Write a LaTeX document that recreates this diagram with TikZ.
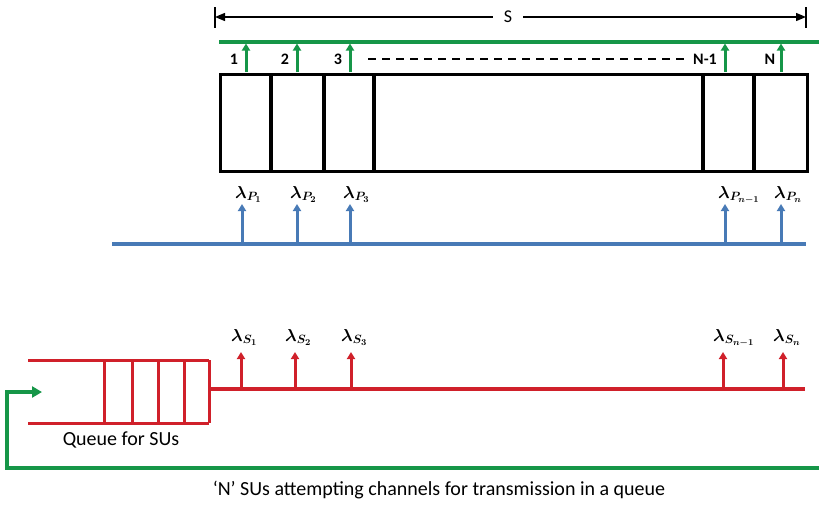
\documentclass[tikz,border=0pt]{standalone}
\usepackage{fontspec}
\setmainfont{Carlito}
\usepackage{bm}
\DeclareMathSizes{17}{17}{12.5}{9.5}
\usetikzlibrary{arrows.meta}
\definecolor{cgreen}{RGB}{22,150,72}
\definecolor{cblue}{RGB}{72,122,182}
\definecolor{cred}{RGB}{208,32,42}
\begin{document}
\begin{tikzpicture}[x=1pt,y=-1pt,
  boxline/.style={draw=black,line width=3.2pt},
  tipg/.style={-{Triangle[length=7pt,width=8pt]}},
  garrow/.style={draw=cgreen,line width=3pt,tipg},
  barrow/.style={draw=cblue,line width=3pt,tipg},
  rarrow/.style={draw=cred,line width=3pt,tipg},
  numlbl/.style={font=\fontsize{16}{18}\selectfont\bfseries,inner sep=0pt},
  lam/.style={font=\fontsize{17}{20}\selectfont,inner sep=0pt},
  txt/.style={font=\fontsize{20}{24}\selectfont,inner sep=0pt}]
\useasboundingbox (0,0) rectangle (819,504);
% dimension S
\coordinate (sl) at (215,17);
\coordinate (sr) at (806,17);
\draw[line width=1.6pt] (215,7) -- (215,28);
\draw[line width=1.6pt] (806,7) -- (806,28);
\draw[line width=1.4pt,{Triangle[length=10pt,width=8pt]}-{Triangle[length=10pt,width=8pt]}] (sl) -- (sr);
\node[fill=white,inner xsep=11pt,inner ysep=2pt,font=\fontsize{18}{21}\selectfont] (S) at (508,17) {S};
% green bus
\coordinate (gl) at (219,42);
\coordinate (gr) at (819,42);
\draw[cgreen,line width=3.2pt] (gl) -- (gr);
% box
\node[boxline,anchor=north west,inner sep=0pt,minimum width=587pt,minimum height=97pt] (box) at (219,73) {};
\foreach \x in {271,324,374,703,754} \draw[boxline] (\x,73) -- (\x,170);
% green arrows and labels
\foreach \i/\x in {1/246,2/297,3/350,4/725,5/781}{
  \coordinate (gb\i) at (\x,72);
  \coordinate (gt\i) at (\x,43.5);
  \draw[garrow] (gb\i) -- (gt\i);
}
\node[numlbl] (n1) at (234,59) {1};
\node[numlbl] (n2) at (285,59) {2};
\node[numlbl] (n3) at (338,59) {3};
\node[numlbl] (nn1) at (705,59) {N-1};
\node[numlbl] (nn) at (770,59) {N};
\coordinate (d1) at (368,59);
\coordinate (d2) at (684,59);
\draw[line width=1.9pt,dash pattern=on 8pt off 6pt] (d1) -- (d2);
% blue
\coordinate (bl) at (112,244);
\coordinate (br) at (806,244);
\draw[cblue,line width=3.2pt] (bl) -- (br);
\foreach \i/\x/\s in {1/242/1,2/297/2,3/350/3,4/725/{n-1},5/781/n}{
  \coordinate (bb\i) at (\x,244);
  \coordinate (bt\i) at (\x,204);
  \draw[barrow] (bb\i) -- (bt\i);
  \node[lam,anchor=base west] (lp\i) at (\x-7,198) {$\bm{\lambda_{P_{\s}}}$};
}
% red queue
\draw[cred,line width=3pt] (28,360) -- (209,360);
\draw[cred,line width=3pt] (28,423) -- (209,423);
\foreach \x in {104,132,158,184,209} \draw[cred,line width=3pt] (\x,360) -- (\x,423);
\coordinate (rl) at (209,389);
\coordinate (rr) at (805,389);
\draw[cred,line width=3.2pt] (rl) -- (rr);
\foreach \i/\x/\s in {1/241/1,2/295/2,3/351/3,4/723/{n-1},5/783/n}{
  \coordinate (rb\i) at (\x,389);
  \coordinate (rt\i) at (\x,352);
  \draw[rarrow] (rb\i) -- (rt\i);
  \node[lam,anchor=base west] (ls\i) at (\x-10,341) {$\bm{\lambda_{S_{\s}}}$};
}
\node[txt] (q) at (121,440) {Queue for SUs};
% green feedback
\coordinate (fr) at (819,468);
\coordinate (fc1) at (7,468);
\coordinate (fc2) at (7,392);
\coordinate (fe) at (42,392);
\draw[cgreen,line width=3.2pt,-{Triangle[length=10pt,width=11pt]}] (fr) -- (fc1) -- (fc2) -- (fe);
\node[txt] (cap) at (439,490) {‘N’ SUs attempting channels for transmission in a queue};
\end{tikzpicture}
\end{document}
